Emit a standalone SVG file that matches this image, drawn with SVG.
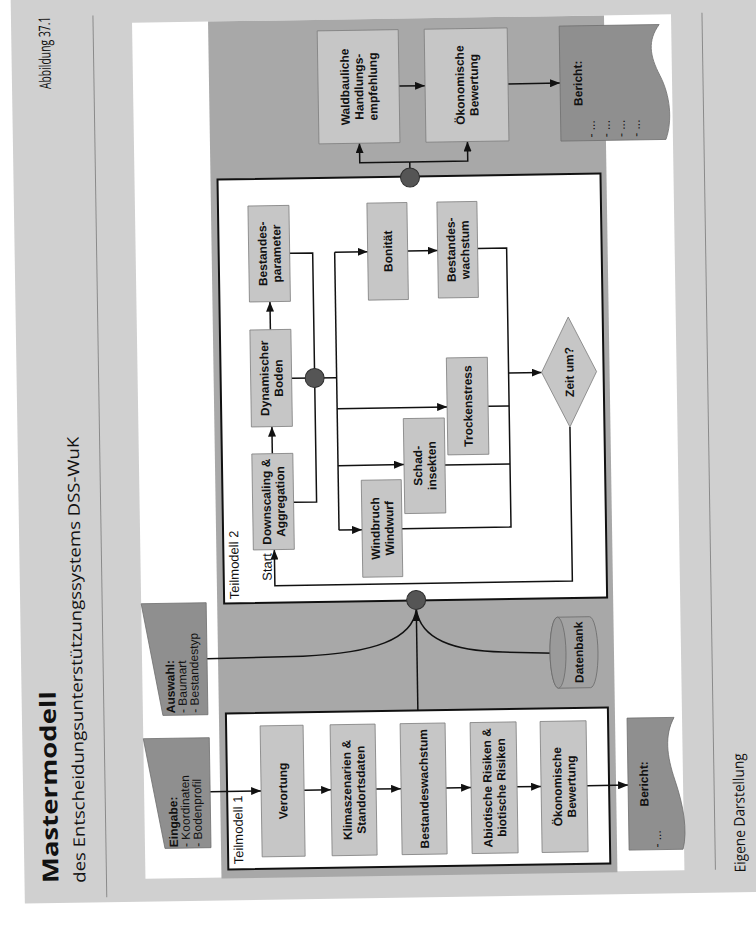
<svg xmlns="http://www.w3.org/2000/svg" width="756" height="928" viewBox="0 0 756 928">
<defs>
<style>
.bx{fill:#c6c6c6;stroke:#7c7c7c;stroke-width:0.8}
.t{font-family:"Liberation Sans",Arial,sans-serif;font-size:12px;font-weight:bold;fill:#111}
.r{font-weight:normal}
.lb{font-family:"Liberation Sans",Arial,sans-serif;font-size:13px;fill:#111}
.cn{fill:none;stroke:#111;stroke-width:1.5}
.ar{marker-end:url(#ah)}
.tm{fill:#fff;stroke:#111;stroke-width:2}
.io{fill:#8f8f8f;stroke:#6f6f6f;stroke-width:0.8}
.dot{fill:#555;stroke:#2e2e2e;stroke-width:1}
.hd{font-family:"Open Sans","Noto Sans",sans-serif;fill:#111}
.rule{stroke:#8a8a8a;stroke-width:1}
</style>
<marker id="ah" viewBox="0 0 10 8" refX="10" refY="4" markerWidth="10" markerHeight="8" markerUnits="userSpaceOnUse" orient="auto"><path d="M0,0 L10,4 L0,8 z" fill="#111"/></marker>
</defs>
<rect width="756" height="928" fill="#fff"/>
<g transform="rotate(-0.9 378 464)">
<rect x="18" y="-30" width="770" height="928" fill="#d0d0d0"/>
<text class="hd" transform="translate(52 878) rotate(-90)" font-size="22" font-weight="bold" textLength="192" lengthAdjust="spacingAndGlyphs">Mastermodell</text>
<text class="hd" transform="translate(79 878) rotate(-90)" font-size="16" textLength="446" lengthAdjust="spacingAndGlyphs">des Entscheidungsunterstützungssystems DSS-WuK</text>
<text class="hd" transform="translate(57 84) rotate(-90) scale(0.65 1)" font-size="16">Abbildung 37.1</text>
<text class="hd" transform="translate(739 878) rotate(-90)" font-size="15" textLength="119" lengthAdjust="spacingAndGlyphs">Eigene Darstellung</text>
<line class="rule" x1="100" y1="11" x2="100" y2="893"/>
<line class="rule" x1="709" y1="18" x2="709" y2="875"/>
<rect x="139" y="19" width="539" height="856" fill="#fff"/>
<rect x="215" y="19" width="396" height="857" fill="#a8a8a8"/>
<rect class="tm" x="222" y="177" width="383" height="424"/>
<rect class="tm" x="222" y="711" width="382" height="156"/>
<text class="lb" transform="translate(237 597) rotate(-90)">Teilmodell 2</text>
<text class="lb" transform="translate(237 862) rotate(-90)">Teilmodell 1</text>
<text class="lb" font-size="12" transform="translate(270 579) rotate(-90)">Start</text>

<g id="connectors">
<path class="cn ar" d="M272.5 452 V425"/>
<path class="cn ar" d="M272.5 328 V300"/>
<path class="cn" d="M293 252 H316 V501 H293"/>
<path class="cn" d="M293 377 H338"/>
<path class="cn" d="M338 251.5 V529.5"/>
<path class="cn ar" d="M338 251.5 H371"/>
<path class="cn ar" d="M338 408 H448"/>
<path class="cn ar" d="M338 465 H404"/>
<path class="cn ar" d="M338 529.5 H361"/>
<path class="cn ar" d="M411 251.5 H441"/>
<path class="cn" d="M481 250 H510 V529 H401"/>
<path class="cn" d="M489 408 H510"/>
<path class="cn" d="M445 466 H510"/>
<path class="cn ar" d="M510 375 H543"/>
<path class="cn ar" d="M570.5 430 V584 H273 V548"/>
<path class="cn" d="M414.5 178 V162.5"/>
<path class="cn ar" d="M414.5 162.5 H364.5 V143"/>
<path class="cn ar" d="M414.5 162.5 H472.5 V143"/>
<path class="cn ar" d="M405 86.5 H431"/>
<path class="cn ar" d="M514 86 H566"/>
<path class="cn ar" d="M205 789 H256"/>
<path class="cn ar" d="M299 789 H326"/>
<path class="cn ar" d="M371 789 H396"/>
<path class="cn ar" d="M441 789 H466"/>
<path class="cn ar" d="M512 789 H536"/>
<path class="cn ar" d="M582 789 H623"/>
<path class="cn ar" d="M414 711 V612"/>
<path class="cn" d="M204 656 L300 655 C370 653 410 640 414 610"/>
<path class="cn" d="M552 656 L500 654 C450 652 418 640 414 610"/>
</g>

<g id="dots">
<circle class="dot" cx="414.5" cy="178" r="9.5"/>
<circle class="dot" cx="316" cy="377" r="9.5"/>
<circle class="dot" cx="414" cy="600.5" r="9.5"/>
</g>

<g id="eingabe">
<path class="io" d="M139 735 L205 735 L205 845 L159 845 Z"/>
<text class="t" font-size="13" transform="translate(172 844) rotate(-90)"><tspan x="0" y="0">Eingabe:</tspan><tspan class="r" font-size="12" x="0" y="12">- Koordinaten</tspan><tspan class="r" font-size="12" x="0" y="24">- Bodenprofil</tspan></text>
</g>
<g id="auswahl">
<path class="io" d="M139 600 L204 600 L204 712 L159 712 Z"/>
<text class="t" font-size="13" transform="translate(171 710) rotate(-90)"><tspan x="0" y="0">Auswahl:</tspan><tspan class="r" font-size="12" x="0" y="12">- Baumart</tspan><tspan class="r" font-size="12" x="0" y="24">- Bestandestyp</tspan></text>
</g>
<g id="datenbank">
<path d="M555 620 L587 620 A8 35.5 0 0 1 587 691 L555 691 A8 35.5 0 0 1 555 620 Z" fill="#a2a2a2" stroke="#6a6a6a" stroke-width="0.8"/>
<ellipse cx="555" cy="655.5" rx="8" ry="35.5" fill="#9a9a9a" stroke="#6a6a6a" stroke-width="0.8"/>
<text class="t" transform="translate(580 655.5) rotate(-90)" text-anchor="middle">Datenbank</text>
</g>

<g id="bericht-oben">
<path class="io" d="M566 29 L666 29 C654 45 656 60 666 80 C676 100 678 125 671 144 L566 144 Z"/>
<text class="t" transform="translate(588 86.5) rotate(-90)" text-anchor="middle">Bericht:</text>
<text class="t r" transform="translate(600 141) rotate(-90)">- ...</text>
<text class="t r" transform="translate(615 141) rotate(-90)">- ...</text>
<text class="t r" transform="translate(630 141) rotate(-90)">- ...</text>
<text class="t r" transform="translate(645 141) rotate(-90)">- ...</text>
</g>
<g id="bericht-unten">
<path class="io" d="M623 722 L670 722 C660 740 662 760 670 785 C678 810 682 835 677 854 L623 854 Z"/>
<text class="t" transform="translate(643 788) rotate(-90)" text-anchor="middle">Bericht:</text>
<text class="t r" transform="translate(655 852) rotate(-90)">- ...</text>
</g>

<g id="waldbauliche">
<rect class="bx" x="324" y="30" width="81" height="113"/>
<text class="t" transform="translate(364.5 86.5) rotate(-90)" text-anchor="middle"><tspan x="0" y="-9.5">Waldbauliche</tspan><tspan x="0" y="4.5">Handlungs-</tspan><tspan x="0" y="18.5">empfehlung</tspan></text>
</g>
<g id="oekonomisch-oben">
<rect class="bx" x="431" y="30" width="83" height="113"/>
<text class="t" transform="translate(472.5 86.5) rotate(-90)" text-anchor="middle"><tspan x="0" y="-2.5">Ökonomische</tspan><tspan x="0" y="11.5">Bewertung</tspan></text>
</g>

<g id="bestandesparameter">
<rect class="bx" x="252" y="204" width="41" height="96"/>
<text class="t" transform="translate(272.5 252) rotate(-90)" text-anchor="middle"><tspan x="0" y="-2.5">Bestandes-</tspan><tspan x="0" y="11.5">parameter</tspan></text>
</g>
<g id="boden">
<rect class="bx" x="252" y="328" width="41" height="97"/>
<text class="t" transform="translate(272.5 376.5) rotate(-90)" text-anchor="middle"><tspan x="0" y="-2.5">Dynamischer</tspan><tspan x="0" y="11.5">Boden</tspan></text>
</g>
<g id="downscaling">
<rect class="bx" x="252" y="452" width="41" height="96"/>
<text class="t" transform="translate(272.5 500) rotate(-90)" text-anchor="middle"><tspan x="0" y="-2.5">Downscaling &amp;</tspan><tspan x="0" y="11.5">Aggregation</tspan></text>
</g>
<g id="bonitaet">
<rect class="bx" x="371" y="203" width="40" height="97"/>
<text class="t" transform="translate(391 251.5) rotate(-90)" text-anchor="middle"><tspan x="0" y="4.5">Bonität</tspan></text>
</g>
<g id="bestandeswachstum-2">
<rect class="bx" x="441" y="203" width="40" height="96"/>
<text class="t" transform="translate(461 251) rotate(-90)" text-anchor="middle"><tspan x="0" y="-2.5">Bestandes-</tspan><tspan x="0" y="11.5">wachstum</tspan></text>
</g>
<g id="trockenstress">
<rect class="bx" x="448" y="359" width="41" height="97"/>
<text class="t" transform="translate(468.5 407.5) rotate(-90)" text-anchor="middle"><tspan x="0" y="4.5">Trockenstress</tspan></text>
</g>
<g id="schadinsekten">
<rect class="bx" x="404" y="419" width="41" height="95"/>
<text class="t" transform="translate(424.5 466.5) rotate(-90)" text-anchor="middle"><tspan x="0" y="-2.5">Schad-</tspan><tspan x="0" y="11.5">insekten</tspan></text>
</g>
<g id="windbruch">
<rect class="bx" x="361" y="480" width="40" height="97"/>
<text class="t" transform="translate(381 528.5) rotate(-90)" text-anchor="middle"><tspan x="0" y="-2.5">Windbruch</tspan><tspan x="0" y="11.5">Windwurf</tspan></text>
</g>
<g id="zeit-um">
<path class="bx" d="M570.5 320 L598 375 L570.5 430 L543 375 Z"/>
<text class="t" transform="translate(570.5 375) rotate(-90)" text-anchor="middle"><tspan x="0" y="4.5">Zeit um?</tspan></text>
</g>

<g id="verortung">
<rect class="bx" x="256" y="724" width="43" height="131"/>
<text class="t" transform="translate(277.5 789.5) rotate(-90)" text-anchor="middle"><tspan x="0" y="4.5">Verortung</tspan></text>
</g>
<g id="klima">
<rect class="bx" x="326" y="724" width="45" height="131"/>
<text class="t" transform="translate(348.5 789.5) rotate(-90)" text-anchor="middle"><tspan x="0" y="-2.5">Klimaszenarien &amp;</tspan><tspan x="0" y="11.5">Standortsdaten</tspan></text>
</g>
<g id="bestandeswachstum-1">
<rect class="bx" x="396" y="724" width="45" height="131"/>
<text class="t" transform="translate(418.5 789.5) rotate(-90)" text-anchor="middle"><tspan x="0" y="4.5">Bestandeswachstum</tspan></text>
</g>
<g id="risiken">
<rect class="bx" x="466" y="724" width="46" height="131"/>
<text class="t" transform="translate(489 789.5) rotate(-90)" text-anchor="middle"><tspan x="0" y="-2.5">Abiotische Risiken &amp;</tspan><tspan x="0" y="11.5">biotische Risiken</tspan></text>
</g>
<g id="oekonomisch-unten">
<rect class="bx" x="536" y="724" width="46" height="131"/>
<text class="t" transform="translate(559 789.5) rotate(-90)" text-anchor="middle"><tspan x="0" y="-2.5">Ökonomische</tspan><tspan x="0" y="11.5">Bewertung</tspan></text>
</g>
</g>
</svg>
